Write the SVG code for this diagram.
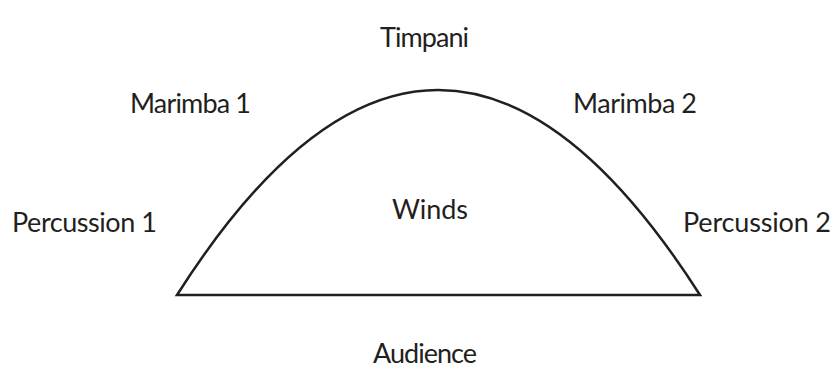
<svg xmlns="http://www.w3.org/2000/svg" width="836" height="370" viewBox="0 0 836 370">
<style>
text{font-family:Lato,"Open Sans","Liberation Sans",sans-serif;font-size:27px;fill:#231f20}
.arch{fill:none;stroke:#231f20;stroke-width:2.5}
</style>
<rect width="836" height="370" fill="#fff"/>
<g id="connectors">
<path class="arch" d="M177,295 Q438,-115 700,295 Z"/>
</g>
<g id="timpani"><text x="380" y="47" textLength="89">Timpani</text></g>
<g id="marimba1"><text x="130" y="113" textLength="121">Marimba 1</text></g>
<g id="marimba2"><text x="573" y="113" textLength="124">Marimba 2</text></g>
<g id="percussion1"><text x="12" y="232" textLength="145">Percussion 1</text></g>
<g id="percussion2"><text x="683" y="232" textLength="148">Percussion 2</text></g>
<g id="winds"><text x="392" y="219" textLength="76">Winds</text></g>
<g id="audience"><text x="373" y="363" textLength="104">Audience</text></g>
</svg>
